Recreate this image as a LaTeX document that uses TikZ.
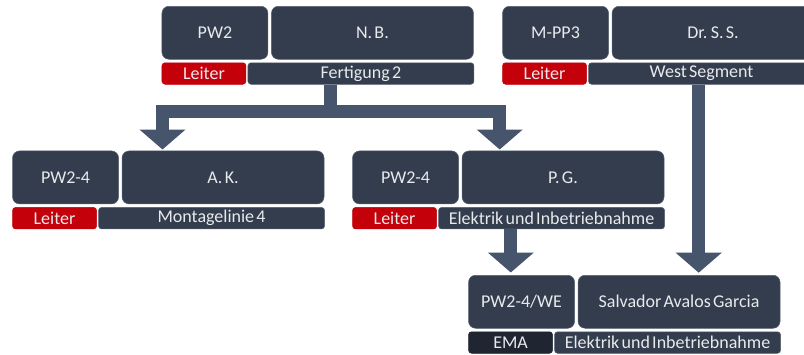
\documentclass[tikz,border=0pt]{standalone}
\usepackage{fontspec}
\setmainfont{Carlito}[WordSpace=0.55]
\usetikzlibrary{arrows.meta}
\definecolor{boxc}{HTML}{343D4D}
\definecolor{edgec}{HTML}{566071}
\definecolor{redc}{HTML}{C4000A}
\definecolor{emac}{HTML}{1F2531}
\definecolor{arrc}{HTML}{46556B}
\definecolor{txtc}{HTML}{E8EAEC}
\tikzset{
  mainbox/.style={fill=boxc, draw=edgec, line width=0.5pt, rounded corners=7pt, text=txtc,
    font=\fontsize{18}{21}\selectfont, inner sep=0pt, minimum height=53pt, anchor=north west},
  tagbox/.style={fill=boxc, draw=edgec, line width=0.5pt, rounded corners=3pt, text=txtc,
    font=\fontsize{18}{21}\selectfont, inner sep=0pt, minimum height=21.5pt, anchor=north west},
  leiterbox/.style={fill=redc, draw=redc},
  emabox/.style={fill=emac, draw=emac},
  stemline/.style={draw=arrc, line width=13pt},
  arrowline/.style={draw=arrc, line width=13pt, line join=miter,
    -{Triangle[width=45pt,length=20pt]}},
}
\newcommand{\orggroup}[8]{%
  \node[mainbox, minimum width=106pt] (#1-code) at (#2,#3) {#4};
  \node[mainbox, minimum width=202pt] (#1-name) at (#2+109.5,#3) {#5};
  \node[tagbox, #6, minimum width=84pt] (#1-tag) at (#2,#3+56.5) {#7};
  \node[tagbox, minimum width=226pt] (#1-dept) at (#2+86,#3+56.5) {#8};
}
\begin{document}
\begin{tikzpicture}[x=1pt,y=-1pt]
\clip (0,0) rectangle (804,354);
\fill[white] (0,0) rectangle (804,354);
\orggroup{g1}{161.7}{6}{PW2}{N. B.}{leiterbox}{Leiter}{Fertigung 2}
\orggroup{g2}{502.3}{6}{M-PP3}{Dr. S. S.}{leiterbox}{Leiter}{West Segment}
\orggroup{g3}{12.3}{150.7}{PW2-4}{A. K.}{leiterbox}{Leiter}{Montagelinie 4}
\orggroup{g4}{352.3}{150.7}{PW2-4}{P. G.}{leiterbox}{Leiter}{Elektrik und Inbetriebnahme}
\orggroup{g5}{468.3}{275}{PW2-4/WE}{Salvador Avalos Garcia}{emabox}{EMA}{Elektrik und Inbetriebnahme}
% connectors
\coordinate (j1) at (330.7,111.5);
\coordinate (t3) at (162.5,149.5);
\coordinate (t4) at (499.7,149.5);
\coordinate (t5) at (510.8,272.5);
\coordinate (t6) at (698.7,272.7);
\draw[stemline] (j1 |- g1-dept.south) -- (j1);
\draw[arrowline] (j1) -| (t3);
\draw[arrowline] (j1) -| (t4);
\draw[arrowline] (t5 |- g4-dept.south) -- (t5);
\draw[arrowline] (t6 |- g2-dept.south) -- (t6);
\end{tikzpicture}
\end{document}
